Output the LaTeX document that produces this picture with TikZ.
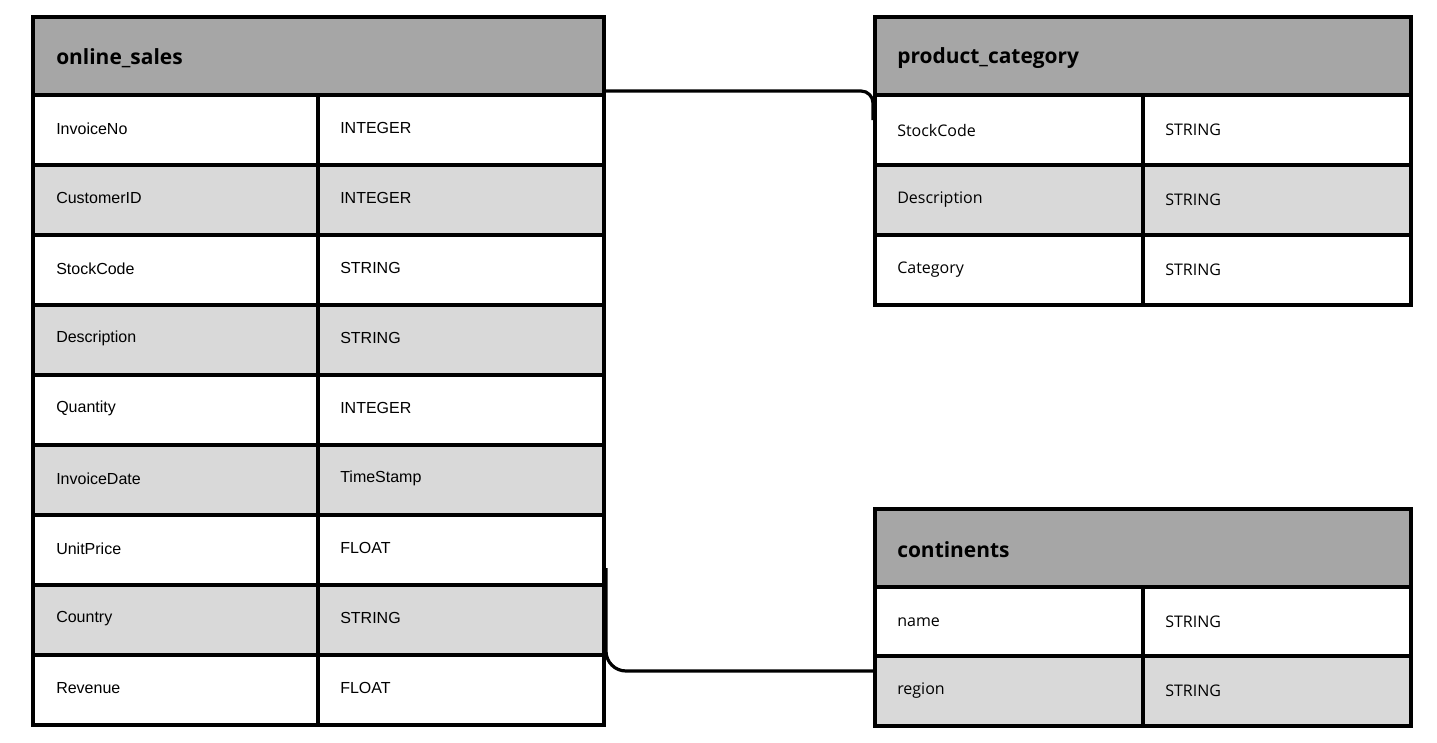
\documentclass[tikz,border=0pt]{standalone}
\usepackage{fontspec}
\setmainfont{Liberation Sans}
\newfontfamily\hdfont{Open Sans}
\definecolor{hdgray}{HTML}{A6A6A6}
\definecolor{rowgray}{HTML}{D9D9D9}
\tikzset{
  cell/.style={draw=black, line width=2.6pt, inner sep=0pt, outer sep=0pt, anchor=north west, minimum height=52.5pt},
  hdcell/.style={cell, fill=hdgray, minimum height=58.5pt},
  txt/.style={anchor=west, inner sep=0pt, font=\fontsize{12}{14}\selectfont},
  rtxt/.style={anchor=west, inner sep=0pt, font=\hdfont\fontsize{12}{14}\selectfont},
  htxt/.style={anchor=west, inner sep=0pt, font=\hdfont\bfseries\fontsize{15.7}{18}\selectfont},
  link/.style={draw=black, line width=2.4pt},
}
\begin{document}
\begin{tikzpicture}[x=0.75pt,y=-0.75pt]
\useasboundingbox (0,0) rectangle (1437,742);
% online_sales
\node[hdcell, minimum width=428.25pt] (os-h) at (33,17) {};
\node[htxt] (os-ht) at ([xshift=17.25pt,yshift=-1.3pt]os-h.west) {online\_sales};
\foreach \i/\a/\b/\f in {1/InvoiceNo/INTEGER/white,2/CustomerID/INTEGER/rowgray,3/StockCode/STRING/white,4/Description/STRING/rowgray,5/Quantity/INTEGER/white,6/InvoiceDate/TimeStamp/rowgray,7/UnitPrice/FLOAT/white,8/Country/STRING/rowgray,9/Revenue/FLOAT/white}{
  \node[cell, fill=\f, minimum width=213.75pt] (os-r\i a) at (33,{95+70*(\i-1)}) {};
  \node[cell, fill=\f, minimum width=214.5pt] (os-r\i b) at (318,{95+70*(\i-1)}) {};
  \node[txt] (os-t\i a) at ([xshift=17.25pt,yshift=1.2pt]os-r\i a.west) {\a};
  \node[txt] (os-t\i b) at ([xshift=16.5pt,yshift=1.2pt]os-r\i b.west) {\b};
}
% product_category
\node[hdcell, minimum width=402pt] (pc-h) at (875,17) {};
\node[htxt] (pc-ht) at ([xshift=16.5pt,yshift=-1.3pt]pc-h.west) {product\_category};
\foreach \i/\a/\b/\f in {1/StockCode/STRING/white,2/Description/STRING/rowgray,3/Category/STRING/white}{
  \node[cell, fill=\f, minimum width=201pt] (pc-r\i a) at (875,{95+70*(\i-1)}) {};
  \node[cell, fill=\f, minimum width=201pt] (pc-r\i b) at (1143,{95+70*(\i-1)}) {};
  \node[rtxt] (pc-t\i a) at ([xshift=16.5pt]pc-r\i a.west) {\a};
  \node[rtxt] (pc-t\i b) at ([xshift=16.5pt]pc-r\i b.west) {\b};
}
% continents
\node[hdcell, minimum width=402pt] (ct-h) at (875,509) {};
\node[htxt] (ct-ht) at ([xshift=16.5pt,yshift=-1.3pt]ct-h.west) {continents};
\foreach \i/\a/\b/\f in {1/name/STRING/white,2/region/STRING/rowgray}{
  \node[cell, fill=\f, minimum width=201pt] (ct-r\i a) at (875,{587+69*(\i-1)}) {};
  \node[cell, fill=\f, minimum width=201pt] (ct-r\i b) at (1143,{587+69*(\i-1)}) {};
  \node[rtxt] (ct-t\i a) at ([xshift=16.5pt]ct-r\i a.west) {\a};
  \node[rtxt] (ct-t\i b) at ([xshift=16.5pt]ct-r\i b.west) {\b};
}
% connectors
\coordinate (c1s) at ([yshift=3pt]os-h.south east);
\coordinate (c1e) at ([xshift=-1.5pt,yshift=-18.75pt]pc-r1a.north west);
\draw[link, rounded corners=9pt] (c1s) -| (c1e);
\coordinate (c2s) at ([xshift=1.5pt,yshift=12.75pt]os-r8b.north east);
\coordinate (c2e) at ([yshift=-11.25pt]ct-r2a.north west);
\draw[link, rounded corners=15pt] (c2s) |- (c2e);
\end{tikzpicture}
\end{document}
